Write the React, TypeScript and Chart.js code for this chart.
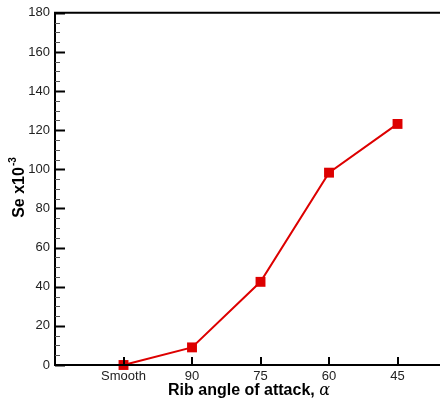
import React, { useEffect, useRef } from "react";
import Chart from "chart.js/auto";

const categories = ["Smooth", "90", "75", "60", "45"];
const seValues = [0, 9, 42.5, 98.3, 123.2];
const yTicks = [0, 20, 40, 60, 80, 100, 120, 140, 160, 180];

const FONT = "'Liberation Sans', Arial, sans-serif";

const axesPlugin = {
  id: "axesPlugin",
  afterDraw(chart: any) {
    const { ctx, chartArea, scales } = chart;
    const { left, right, top, bottom } = chartArea;
    ctx.save();
    ctx.strokeStyle = "#000";
    ctx.lineWidth = 2;
    ctx.beginPath();
    ctx.moveTo(left, top);
    ctx.lineTo(left, bottom);
    ctx.moveTo(left - 1, bottom);
    ctx.lineTo(right, bottom);
    ctx.moveTo(left - 1, top);
    ctx.lineTo(right, top);
    ctx.stroke();
    // y ticks
    const y = scales.y;
    for (let v = 0; v <= 180; v += 5) {
      const py = Math.round(y.getPixelForValue(v)) + 0.5;
      const major = v % 20 === 0;
      ctx.lineWidth = major ? 2 : 1;
      ctx.strokeStyle = major ? "#000" : "#555";
      ctx.beginPath();
      ctx.moveTo(left, py);
      ctx.lineTo(left + (major ? 10 : 5), py);
      ctx.stroke();
    }
    // x ticks
    const x = scales.x;
    ctx.lineWidth = 2;
    ctx.strokeStyle = "#000";
    categories.forEach((_, i) => {
      const px = Math.round(x.getPixelForValue(i + 1));
      ctx.beginPath();
      ctx.moveTo(px, bottom);
      ctx.lineTo(px, bottom - 8);
      ctx.stroke();
    });
    // x title
    ctx.fillStyle = "#000";
    ctx.textBaseline = "alphabetic";
    const t1 = "Rib angle of attack, ";
    ctx.font = `bold 16px ${FONT}`;
    const w1 = ctx.measureText(t1).width;
    ctx.font = `italic 16px 'DejaVu Serif', serif`;
    const w2 = ctx.measureText("α").width;
    const sx = 249 - (w1 + w2) / 2;
    ctx.font = `bold 16px ${FONT}`;
    ctx.textAlign = "left";
    ctx.fillText(t1, sx, 395);
    ctx.font = `italic 16px 'DejaVu Serif', serif`;
    ctx.fillText("α", sx + w1, 395);
    // y title
    ctx.translate(24, 188);
    ctx.rotate(-Math.PI / 2);
    const s1 = "Se x10";
    ctx.font = `bold 16px ${FONT}`;
    const a1 = ctx.measureText(s1).width;
    ctx.font = `bold 10px ${FONT}`;
    const a2 = ctx.measureText("-3").width;
    const st = -(a1 + a2) / 2;
    ctx.font = `bold 16px ${FONT}`;
    ctx.fillText(s1, st, 0);
    ctx.font = `bold 10px ${FONT}`;
    ctx.fillText("-3", st + a1 + 1, -8);
    ctx.restore();
  },
};

export default function App() {
  const ref = useRef<HTMLCanvasElement | null>(null);
  useEffect(() => {
    if (!ref.current) return;
    const chart = new Chart(ref.current, {
      type: "line",
      data: {
        datasets: [
          {
            data: seValues.map((v, i) => ({ x: i + 1, y: v })),
            borderColor: "#dd0000",
            backgroundColor: "#dd0000",
            borderWidth: 2,
            pointStyle: "rect",
            pointRadius: 7,
            pointBorderWidth: 0,
            tension: 0,
            clip: false as any,
          },
        ],
      },
      options: {
        animation: false,
        responsive: false,
        events: [],
        layout: { autoPadding: false, padding: { top: 12, left: 0, right: 0, bottom: 0 } },
        plugins: { legend: { display: false }, tooltip: { enabled: false } },
        scales: {
          x: {
            type: "linear",
            min: 0,
            max: 5.62,
            grid: { display: false, drawTicks: false },
            border: { display: false },
            ticks: {
              autoSkip: false,
              maxRotation: 0,
              padding: 4,
              color: "#222",
              font: { family: FONT, size: 13 },
              callback: (v: any) => categories[Number(v) - 1] ?? "",
            },
            afterBuildTicks: (s: any) => {
              s.ticks = categories.map((_, i) => ({ value: i + 1 }));
            },
            afterFit: (s: any) => {
              s.height = 35;
            },
          },
          y: {
            min: 0,
            max: 180,
            grid: { display: false, drawTicks: false },
            border: { display: false },
            ticks: {
              padding: 5,
              color: "#222",
              font: { family: FONT, size: 13 },
            },
            afterBuildTicks: (s: any) => {
              s.ticks = yTicks.map((v) => ({ value: v }));
            },
            afterFit: (s: any) => {
              s.width = 55;
            },
          },
        },
      },
      plugins: [axesPlugin],
    });
    return () => chart.destroy();
  }, []);
  return (
    <div style={{ position: "absolute", left: 0, top: 0, width: 440, height: 400, background: "#fff" }}>
      <canvas ref={ref} width={440} height={400} style={{ width: 440, height: 400 }} />
    </div>
  );
}
